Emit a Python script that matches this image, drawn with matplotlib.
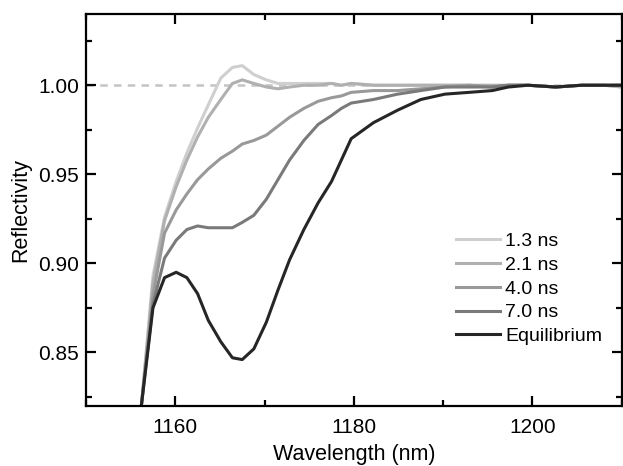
import matplotlib
matplotlib.use("Agg")
from matplotlib import pyplot as plt
from matplotlib.ticker import MultipleLocator

plt.rcParams['font.family'] = ['Liberation Sans', 'DejaVu Sans']

# wavelength grid (nm)
wavelength = [1156.2, 1157.5, 1158.8, 1160.1, 1161.3, 1162.5, 1163.7, 1165.1,
              1166.4, 1167.5, 1168.8, 1170.2, 1171.5, 1172.8, 1174.4, 1176.0,
              1177.5, 1178.6, 1179.7, 1182.2, 1184.9, 1187.5, 1190.2, 1192.9,
              1195.5, 1197.3, 1199.5, 1202.6, 1205.5, 1208.0, 1210.0]

r_1p3 = [0.820, 0.893, 0.926, 0.946, 0.962, 0.976, 0.989, 1.004,
         1.010, 1.011, 1.006, 1.003, 1.001, 1.001, 1.001, 1.001,
         1.001, 1.000, 1.001, 1.000, 1.000, 1.000, 1.000, 1.000,
         0.999, 1.000, 1.000, 0.999, 1.000, 1.000, 0.999]
r_2p1 = [0.820, 0.889, 0.924, 0.943, 0.958, 0.971, 0.982, 0.992,
         1.001, 1.003, 1.001, 0.999, 0.998, 0.999, 1.000, 1.000,
         1.001, 1.000, 1.001, 1.000, 1.000, 1.000, 1.000, 1.000,
         1.000, 1.000, 1.000, 0.999, 1.000, 1.000, 0.999]
r_4p0 = [0.820, 0.882, 0.917, 0.930, 0.939, 0.947, 0.953, 0.959,
         0.963, 0.967, 0.969, 0.972, 0.977, 0.982, 0.987, 0.991,
         0.993, 0.994, 0.996, 0.997, 0.997, 0.998, 0.999, 1.000,
         0.999, 1.000, 1.000, 0.999, 1.000, 1.000, 1.000]
r_7p0 = [0.820, 0.877, 0.903, 0.913, 0.919, 0.921, 0.920, 0.920,
         0.920, 0.923, 0.927, 0.936, 0.947, 0.958, 0.969, 0.978,
         0.983, 0.987, 0.990, 0.992, 0.995, 0.997, 0.999, 0.999,
         0.999, 1.000, 1.000, 0.999, 1.000, 1.000, 1.000]
r_eq = [0.820, 0.875, 0.892, 0.895, 0.892, 0.883, 0.868, 0.856,
        0.847, 0.846, 0.852, 0.867, 0.885, 0.902, 0.919, 0.934,
        0.946, 0.958, 0.970, 0.979, 0.986, 0.992, 0.995, 0.996,
        0.997, 0.999, 1.000, 0.999, 1.000, 1.000, 1.000]

labels = ['1.3 ns', '2.1 ns', '4.0 ns', '7.0 ns', 'Equilibrium']
colors = ['#cfcfcf', '#b0b0b0', '#999999', '#7a7a7a', '#262626']

fig = plt.figure(figsize=(6.23, 4.66), dpi=100)
ax = fig.add_axes([0.138, 0.129, 0.860, 0.841])

ax.axhline(1.0, color='#c4c4c4', lw=1.8, ls=(0, (3, 2.5)), zorder=1)
for r, lab, c in zip([r_1p3, r_2p1, r_4p0, r_7p0, r_eq], labels, colors):
    ax.plot(wavelength, r, color=c, lw=2.2, label=lab)

ax.set_xlim(1150, 1210)
ax.set_ylim(0.82, 1.04)
ax.xaxis.set_major_locator(MultipleLocator(20))
ax.xaxis.set_minor_locator(MultipleLocator(10))
ax.yaxis.set_major_locator(MultipleLocator(0.05))
ax.yaxis.set_minor_locator(MultipleLocator(0.025))
ax.set_yticks([0.85, 0.90, 0.95, 1.00])
ax.set_yticklabels(['0.85', '0.90', '0.95', '1.00'])
ax.tick_params(which='both', direction='in', top=True, right=True,
               width=1.6, labelsize=15)
ax.tick_params(axis='x', pad=9)
ax.tick_params(axis='y', pad=5)
ax.tick_params(which='major', length=7)
ax.tick_params(which='minor', length=4)
for s in ax.spines.values():
    s.set_linewidth(1.6)

ax.set_xlabel('Wavelength (nm)', fontsize=15.5, labelpad=5)
ax.set_ylabel('Reflectivity', fontsize=15.5, labelpad=5)

ax.legend(loc='lower left', bbox_to_anchor=(0.672, 0.13), frameon=False,
          fontsize=14, handlelength=2.3, handletextpad=0.25,
          labelspacing=0.32, borderpad=0)

fig.savefig('out.png', dpi=100)
